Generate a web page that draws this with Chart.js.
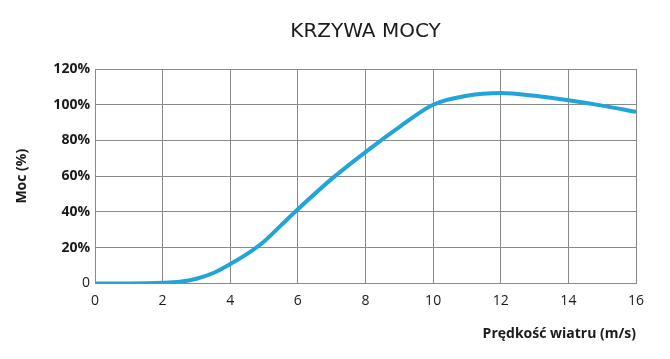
<!DOCTYPE html>
<html lang="pl">
<head>
    <meta charset="UTF-8">
    <title>Krzywa mocy</title>
    <script src="https://cdn.jsdelivr.net/npm/chart.js"></script>
    <style>
        body { margin: 0; background: #fff; }
        .chart-box { width: 670px; height: 359px; }
    </style>
</head>
<body>
    <div class="chart-box">
        <canvas id="powerChart"></canvas>
    </div>

    <script>
        // predkosc wiatru (m/s) i moc (%)
        const windSpeed = [0, 1, 2, 2.5, 3, 3.5, 4, 4.5, 5, 5.5, 6, 7, 8, 9, 10, 11, 12, 13, 14, 15, 16];
        const powerPct = [0, 0, 0.3, 0.9, 2.6, 5.8, 10.8, 16.5, 23.5, 32.5, 41.5, 58.5, 73.5, 87.5, 100, 105, 106.5, 105, 102.5, 99.5, 96];
        const xTicks = [0, 2, 4, 6, 8, 10, 12, 14, 16];
        const yTicks = [0, 20, 40, 60, 80, 100, 120];

        const gridGray = '#8a8a8a';
        const textDark = '#1a1a1a';

        new Chart(document.getElementById('powerChart'), {
            type: 'line',
            data: {
                datasets: [{
                    label: 'Moc',
                    data: windSpeed.map((v, i) => ({ x: v, y: powerPct[i] })),
                    borderColor: 'rgb(32, 164, 218)',
                    borderWidth: 4,
                    pointRadius: 0,
                    cubicInterpolationMode: 'monotone',
                    fill: false
                }]
            },
            options: {
                responsive: true,
                maintainAspectRatio: false,
                animation: false,
                layout: { padding: { left: 0, right: 34, top: 0, bottom: 17 } },
                plugins: {
                    legend: { display: false },
                    tooltip: { enabled: false },
                    title: {
                        display: true,
                        fullSize: false,
                        text: 'KRZYWA MOCY',
                        color: textDark,
                        font: { family: 'DejaVu Sans', size: 20, weight: 'normal' },
                        padding: { top: 20, bottom: 25 }
                    }
                },
                scales: {
                    x: {
                        type: 'linear',
                        min: xTicks[0],
                        max: xTicks[xTicks.length - 1],
                        afterBuildTicks: s => { s.ticks = xTicks.map(v => ({ value: v })); },
                        grid: { color: gridGray, drawTicks: false },
                        border: { color: gridGray },
                        ticks: {
                            padding: 9,
                            color: textDark,
                            font: { family: 'Open Sans', size: 14 }
                        },
                        title: {
                            display: true,
                            text: 'Prędkość wiatru (m/s)',
                            align: 'end',
                            color: textDark,
                            font: { family: 'Open Sans', size: 14, weight: 'bold' },
                            padding: { top: 7, bottom: 0 }
                        }
                    },
                    y: {
                        min: yTicks[0],
                        max: yTicks[yTicks.length - 1],
                        afterBuildTicks: s => { s.ticks = yTicks.map(v => ({ value: v })); },
                        afterFit: s => { s.width = 95; },
                        grid: { color: gridGray, drawTicks: false },
                        border: { color: gridGray },
                        ticks: {
                            padding: 5,
                            color: textDark,
                            callback: v => v === 0 ? '0' : v + '%',
                            font: ctx => ({
                                family: 'Open Sans',
                                size: 14,
                                weight: ctx.tick && ctx.tick.value === 0 ? 'normal' : 'bold'
                            })
                        },
                        title: {
                            display: true,
                            text: 'Moc (%)',
                            color: textDark,
                            font: { family: 'Open Sans', size: 14, weight: 'bold' },
                            padding: { top: 14, bottom: 0 }
                        }
                    }
                }
            }
        });
    </script>
</body>
</html>
